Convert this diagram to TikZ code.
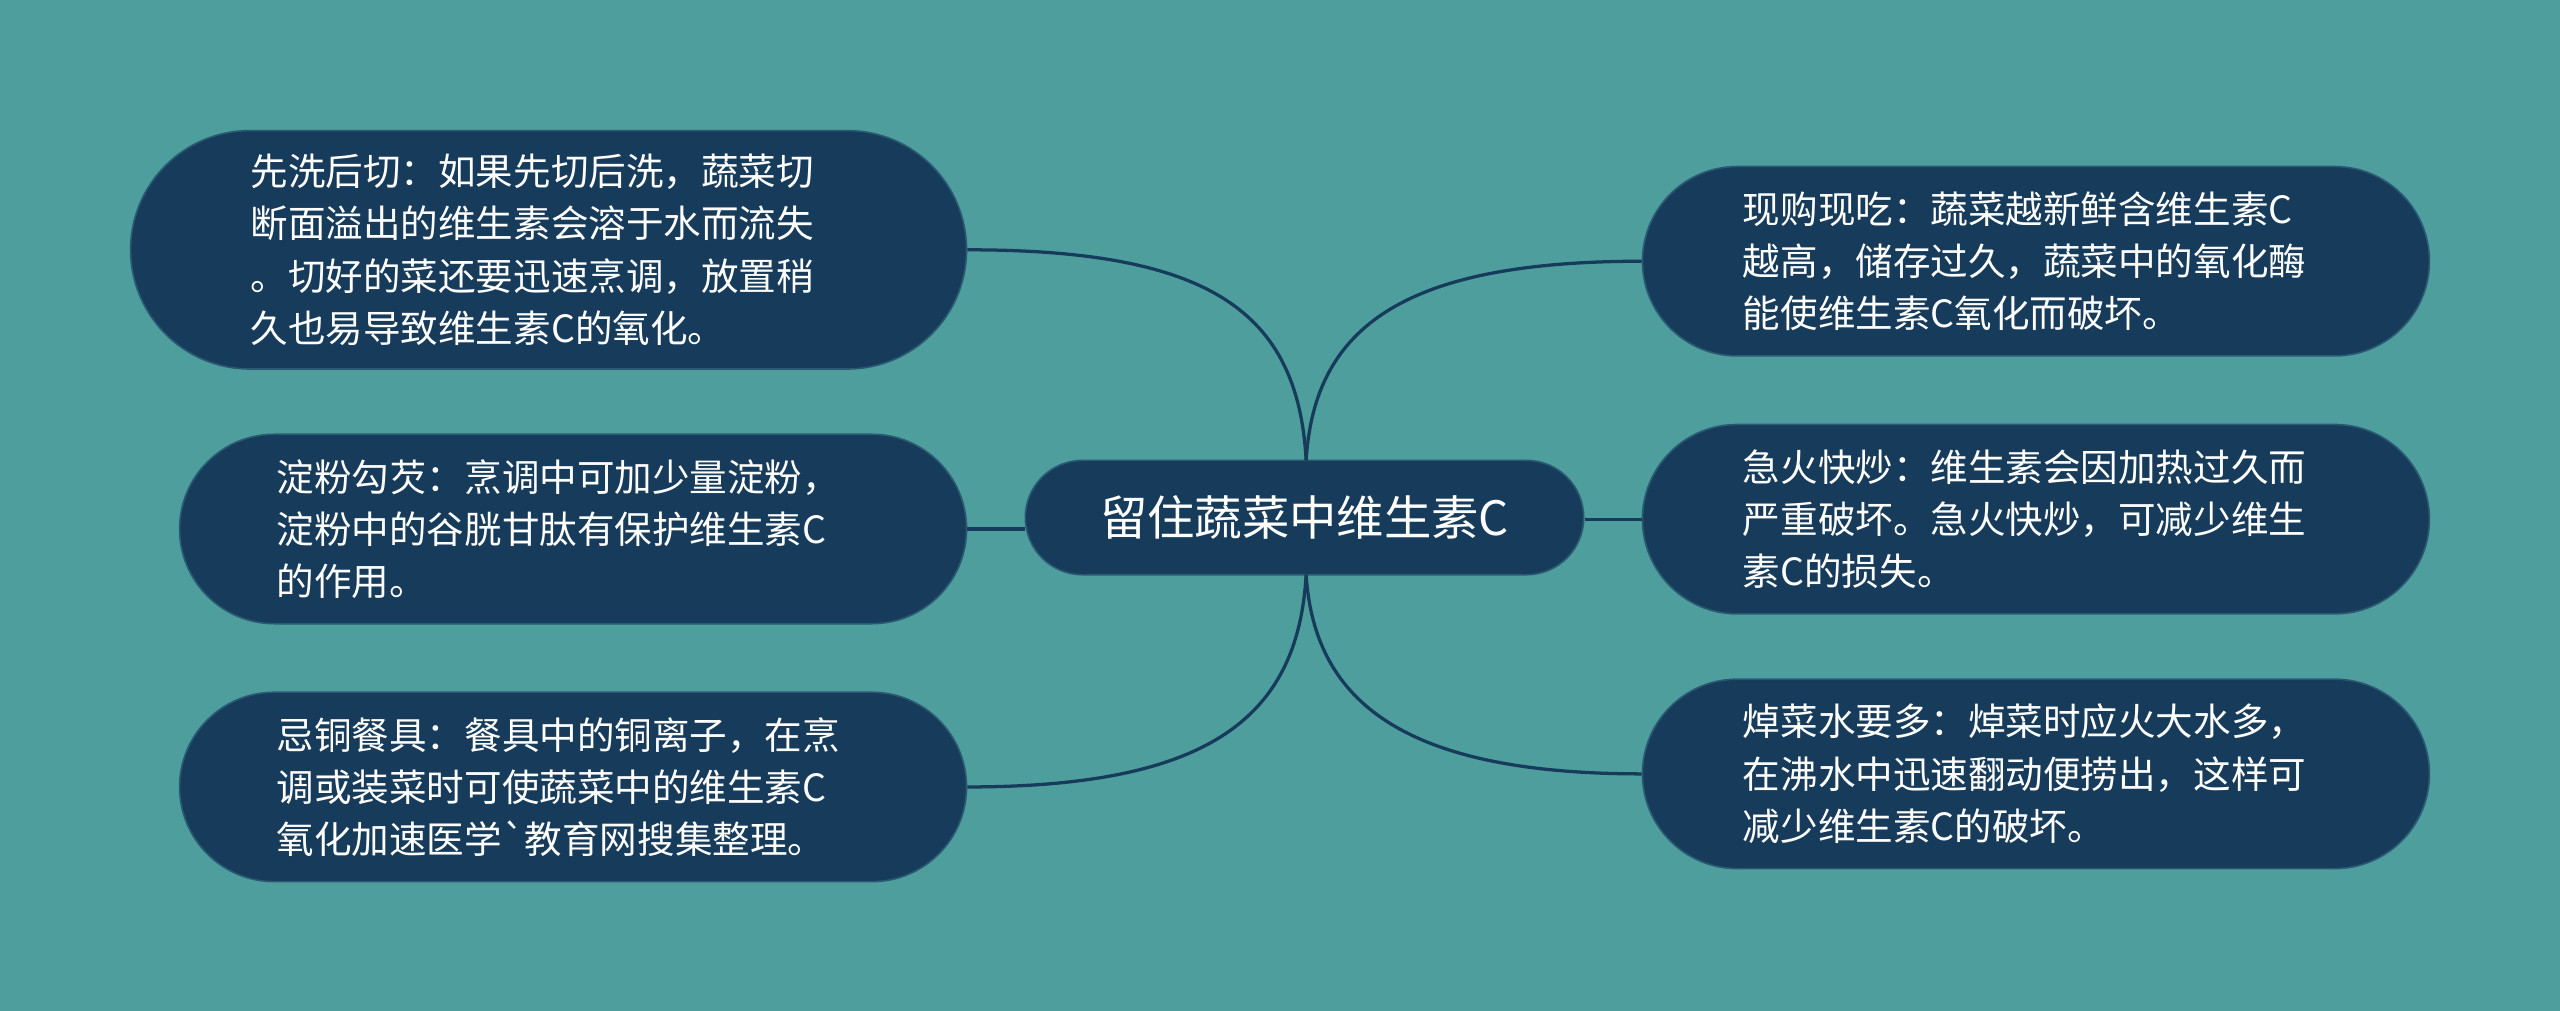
\documentclass[tikz,border=0pt]{standalone}
\usepackage{fontspec}
\newfontfamily\cjk{Noto Sans CJK SC}
\definecolor{bg}{HTML}{4E9E9E}
\definecolor{nav}{HTML}{173B5A}
\definecolor{edge}{HTML}{2A5A72}
\begin{document}
\begin{tikzpicture}[x=1pt,y=-1pt,
  leaf/.style={draw=edge,line width=1pt,fill=nav,rounded corners=58pt,text=white,font=\cjk\fontsize{23}{32}\selectfont,align=left,inner sep=0pt},
  txt/.style={text=white,font=\cjk\fontsize{23}{32}\selectfont,align=left,anchor=west},
  conn/.style={draw=nav,line width=2pt}]
\fill[bg] (0,0) rectangle (1568,619);
\useasboundingbox (0,0) rectangle (1568,619);
\node[leaf,minimum width=512pt,minimum height=146pt,rounded corners=73pt] (l1) at (336,153) {};
\node[txt] at (150,153) {先洗后切：如果先切后洗，蔬菜切\\断面溢出的维生素会溶于水而流失\\。切好的菜还要迅速烹调，放置稍\\久也易导致维生素C的氧化。};
\node[leaf,minimum width=482pt,minimum height=116pt] (l2) at (351,324) {};
\node[txt] at (166,324) {淀粉勾芡：烹调中可加少量淀粉，\\淀粉中的谷胱甘肽有保护维生素C\\的作用。};
\node[leaf,minimum width=482pt,minimum height=116pt] (l3) at (351,482) {};
\node[txt] at (166,482) {忌铜餐具：餐具中的铜离子，在烹\\调或装菜时可使蔬菜中的维生素C\\氧化加速医学`教育网搜集整理。};
\node[leaf,minimum width=482pt,minimum height=116pt] (r1) at (1247,160) {};
\node[txt] at (1064,160) {现购现吃：蔬菜越新鲜含维生素C\\越高，储存过久，蔬菜中的氧化酶\\能使维生素C氧化而破坏。};
\node[leaf,minimum width=482pt,minimum height=116pt] (r2) at (1247,318) {};
\node[txt] at (1064,318) {急火快炒：维生素会因加热过久而\\严重破坏。急火快炒，可减少维生\\素C的损失。};
\node[leaf,minimum width=482pt,minimum height=116pt] (r3) at (1247,474) {};
\node[txt] at (1064,474) {焯菜水要多：焯菜时应火大水多，\\在沸水中迅速翻动便捞出，这样可\\减少维生素C的破坏。};
\node[leaf,minimum width=342pt,minimum height=70pt,rounded corners=35pt,font=\cjk\fontsize{29}{34}\selectfont] (c) at (799,317) {留住蔬菜中维生素C};
\coordinate (ct) at (800,282);
\coordinate (cb) at (800,352);
\draw[conn] (ct) .. controls (795,190) and (740,153) .. (l1.east);
\draw[conn] (c.west |- l2.east) -- (l2.east);
\draw[conn] (cb) .. controls (795,440) and (740,482) .. (l3.east);
\draw[conn] (ct) .. controls (805,200) and (860,160) .. (r1.west);
\draw[conn] (c.east |- r2.west) -- (r2.west);
\draw[conn] (cb) .. controls (805,430) and (860,474) .. (r3.west);
\end{tikzpicture}
\end{document}
